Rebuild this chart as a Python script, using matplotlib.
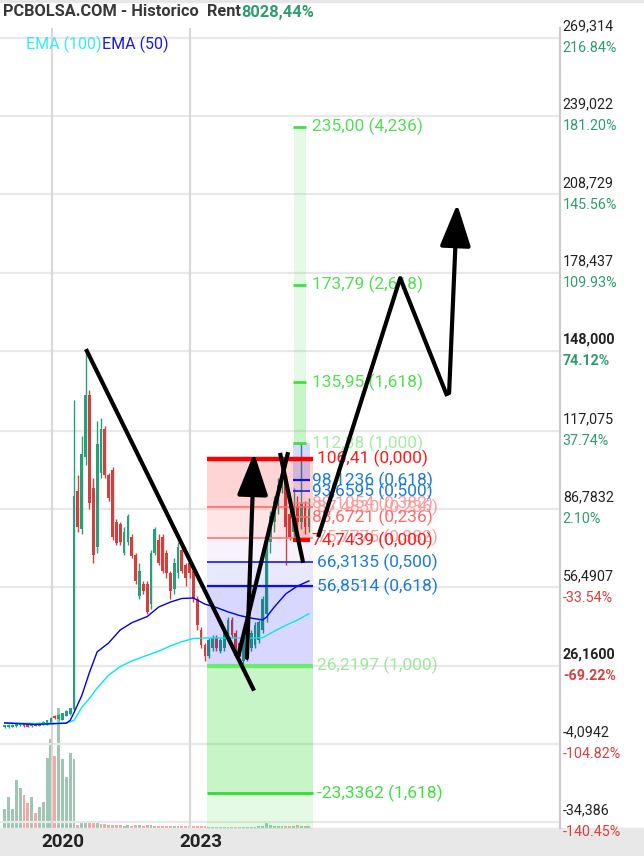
import matplotlib
matplotlib.use("Agg")
import matplotlib.pyplot as plt
import matplotlib.transforms as mtransforms
from matplotlib.patches import Rectangle

plt.rcParams['font.family'] = ['Roboto', 'DejaVu Sans']

# monthly candles, index 0 = Dec 2018
opens = [2.3, 2.5, 2.6, 2.8, 3.0, 3.8, 3.4, 2.7, 3.5, 2.9,
         3.4, 3.3, 3.9, 6.6, 5.6, 5.2, 6.8, 7.4, 9.5, 94,
         79, 107, 131, 95, 72, 101, 118, 100, 102, 82,
         81, 70, 74, 76, 69, 53, 58, 58, 50, 70,
         75, 76, 70, 62, 56, 62, 71, 65, 66, 63,
         52, 40, 34, 30, 33, 37, 32, 33, 37, 44,
         39, 35, 28, 30, 33, 34, 36, 40, 46, 74,
         82, 88, 95, 98, 85, 78, 88, 82, 88, 80]
highs = [3.2, 3.4, 3.5, 4.0, 4.1, 4.0, 3.6, 3.8, 3.7, 4.2,
         4.6, 5.3, 6.2, 6.9, 7.3, 8.0, 8.9, 9.8, 129, 100,
         115, 148, 133, 99, 121, 122, 119, 101, 103, 83,
         82, 80, 85, 77, 70, 66, 59, 59, 71, 80,
         77, 77, 71, 63, 68, 74, 72, 66, 67, 64.5,
         53, 41, 35, 37, 38, 38, 37, 40, 45, 45,
         40, 36, 38, 39, 40, 43, 44, 53, 77, 86,
         92, 99, 104, 100, 88, 95, 92, 112.38, 90, 91]
lows = [2.0, 2.2, 2.4, 2.6, 2.8, 2.6, 2.4, 2.5, 2.7, 2.7,
        3.1, 3.1, 3.7, 5.6, 5.3, 5.0, 6.5, 7.1, 9.0, 78,
        77, 104, 87, 66, 70, 99, 99, 90, 75, 73,
        73, 69, 73, 68, 58, 52, 54, 46, 48, 69,
        65, 62, 60, 52, 54, 60, 62, 57, 60, 51,
        40, 33, 28, 29, 32, 32, 31, 32, 36, 37,
        29, 30, 27, 28, 32, 33, 35, 39, 43, 70,
        78, 85, 93, 65, 74.74, 75, 78, 79, 77, 78]
closes = [3.0, 3.1, 3.3, 3.7, 3.8, 2.8, 2.6, 3.6, 2.9, 4.0,
          4.4, 5.0, 5.9, 5.8, 7.0, 7.7, 8.6, 9.6, 92, 80,
          108, 131, 89, 69, 112, 118, 100, 91, 76, 73.5,
          74, 78, 84, 68.5, 59, 63, 55, 47, 70, 79,
          66, 63, 62, 55, 66, 72, 63, 60, 62, 52,
          42, 34, 30, 36, 37, 33, 36, 39, 44, 38,
          30, 31, 37, 38, 39, 42, 43, 52, 75, 84,
          90, 96, 102, 80, 76, 88, 82, 89, 80, 87]
volumes = [19, 31, 19, 48, 40, 33, 25, 31, 15, 21,
           26, 70, 89, 72, 120, 69, 51, 75, 69, 3,
           5, 6, 7, 6, 5, 4, 4, 3, 3, 3,
           3, 2.5, 3, 2.5, 3, 3, 2, 3, 3, 2,
           2, 2, 2, 2, 2, 2, 2, 2, 2, 2,
           2, 2, 2, 1.5, 1.5, 1.5, 1.5, 1.5, 1.5, 1.5,
           1.5, 1.5, 1.5, 1.5, 1.5, 1.5, 2, 2, 5, 3,
           2.5, 2.5, 2.5, 2.5, 2.5, 2.5, 3, 2.5, 2.5, 2.5]

ema50_idx = [0, 8, 16, 17, 18, 20, 22, 24, 27, 30, 33, 37, 40, 43, 46, 49,
             52, 55, 58, 61, 64, 67, 68, 70, 73, 76, 79]
ema50_val = [4.0, 3.4, 3.9, 5.0, 8.0, 14.5, 23.5, 31.5, 35.0, 40.0, 42.8, 45.2,
             48.9, 50.8, 52.2, 52.4, 50.0, 48.7, 47.0, 45.6, 44.6, 43.9, 45.0,
             48.9, 54.0, 57.0, 59.0]
ema100_idx = [0, 8, 16, 18, 20, 22, 24, 27, 30, 33, 37, 40, 43, 46, 49, 52,
              58, 64, 67, 70, 73, 76, 79]
ema100_val = [4.0, 3.8, 3.9, 5.0, 10.0, 13.5, 17.5, 22.5, 25.8, 28.0, 30.2, 31.8,
              33.8, 35.5, 36.7, 36.9, 36.9, 36.9, 37.0, 39.5, 41.8, 43.8, 46.3]

price_ticks = [269.314, 239.022, 208.729, 178.437, 148.000, 117.075,
               86.7832, 56.4907, 26.1600, -4.0942, -34.386]
price_labels = ["269,314", "239,022", "208,729", "178,437", "148,000", "117,075",
                "86,7832", "56,4907", "26,1600", "-4,0942", "-34,386"]
bold_ticks = [148.000, 26.1600]
base_price = 85.0

years = ["2020", "2023"]
year_idx = [12.3, 48.1]

# big fib retracement
fibA_start, fibA_end = 52.6, 80.1
fibA_prices = [106.41, 87.4830, 75.7775, 66.3135, 56.8514, 26.2197, -23.3362, -103.53]
fibA_text = ["106,41 (0,000)", "87,4830 (0,236)", "75,7775 (0,382)", "66,3135 (0,500)",
             "56,8514 (0,618)", "26,2197 (1,000)", "-23,3362 (1,618)"]

# small fib retracement
fibB_start, fibB_end = 74.9, 79.3
fibB_prices = [74.7439, 83.6721, 89.1054, 93.6595, 98.1236, 112.38]
fibB_text = ["74,7439 (0,000)", "83,6721 (0,236)", "89,1054 (0,382)",
             "93,6595 (0,500)", "98,1236 (0,618)"]

# fib extension
fibC_start, fibC_end = 75.1, 78.3
fibC_prices = [112.38, 135.95, 173.79, 235.00]
fibC_text = ["112,38 (1,000)", "135,95 (1,618)", "173,79 (2,618)", "235,00 (4,236)"]

# hand drawn sketch (month index, price)
trend_x, trend_y = [21.1, 64.75], [148.8, 16.5]
rise_x, rise_y = [60.6, 73.6], [29.5, 108.9]
drop_x, drop_y = [71.5, 77.5], [108.6, 66.0]
zig_x, zig_y = [81.4, 102.7, 114.9], [76.0, 176.3, 130.6]
arrow_from = [(62.9, 29.2), (115.4, 131.8)]
arrow_to = [(64.75, 108.6), (117.5, 205.0)]

GREEN = '#26a07a'
RED = '#d23f3f'

fig = plt.figure(figsize=(6.44, 8.56), dpi=100)
rect = [0, 28 / 856, 560 / 644, 800 / 856]
ax_vol = fig.add_axes(rect)
ax_vol.axis('off')
ax = fig.add_axes(rect, facecolor='none')
ax.set_zorder(2)

xlim = (-1.22, 144.2)
ax.set_xlim(*xlim)
ax.set_ylim(-36.71, 273.19)
ax_vol.set_xlim(*xlim)
ax_vol.set_ylim(0, max(volumes) * 6.67)

idx = list(range(len(closes)))
up = [c >= o for o, c in zip(opens, closes)]
cols = [GREEN if u else RED for u in up]
vcols = ['#9fc6b3' if u else '#f2a8a8' for u in up]

ax_vol.bar(idx, volumes, width=0.75, color=vcols, linewidth=0)

for p in price_ticks:
    ax.axhline(p, color='#e8e8e8', lw=1.6, zorder=0)
for yi in year_idx:
    ax.axvline(yi, color='#d8d8d8', lw=1.5, zorder=0)

# candles
ax.vlines(idx, lows, highs, colors=cols, lw=1, zorder=2)
ax.bar(idx, [max(abs(c - o), 0.4) for o, c in zip(opens, closes)],
       bottom=[min(o, c) for o, c in zip(opens, closes)],
       width=0.72, color=cols, linewidth=0, zorder=2)

# fib A fills
fillA = [('#ff0000', 0.17), ('#ff0000', 0.10), ('#a050e0', 0.07), ('#0000ff', 0.09),
         ('#0000ff', 0.155), ('#33dd33', 0.27), ('#33dd33', 0.13)]
for k, (c, a) in enumerate(fillA):
    ax.fill_between([fibA_start, fibA_end], fibA_prices[k + 1], fibA_prices[k],
                    color=c, alpha=a, lw=0, zorder=3)
fillB = [('#ff0000', 0.17), ('#ff0000', 0.10), ('#a050e0', 0.07), ('#0000ff', 0.09),
         ('#0000ff', 0.155)]
for k, (c, a) in enumerate(fillB):
    ax.fill_between([fibB_start, fibB_end], fibB_prices[k], fibB_prices[k + 1],
                    color=c, alpha=a, lw=0, zorder=3)
ax.fill_between([fibC_start, fibC_end], fibC_prices[0], fibC_prices[1],
                color='#33dd33', alpha=0.27, lw=0, zorder=3)
ax.fill_between([fibC_start, fibC_end], fibC_prices[1], fibC_prices[3],
                color='#33dd33', alpha=0.13, lw=0, zorder=3)

# EMAs
ax.plot(ema100_idx, ema100_val, color='#00eaea', lw=1, zorder=4)
ax.plot(ema50_idx, ema50_val, color='#0000e6', lw=1, zorder=4)

FIBSIZE = 12.5

# fib lines + labels
lineA = [('#ff0000', 3.2), ('#ff6b6b', 1.2), ('#ff7a7a', 1.2), ('#2a2ae8', 1.3),
         ('#1010e0', 1.6), ('#66ee66', 3.0), ('#2fdc2f', 2.0)]
textA = ['#ff1a1a', '#ff9a9a', '#ffa0a0', '#1f7ad6', '#1f7ad6', '#9de89d', '#40e040']
for k in range(len(fibA_text)):
    ax.hlines(fibA_prices[k], fibA_start, fibA_end, colors=lineA[k][0],
              lw=lineA[k][1], zorder=5)
    ax.annotate(fibA_text[k], xy=(fibA_end, fibA_prices[k]), xytext=(3, 0),
                textcoords='offset points', va='center', ha='left', fontsize=FIBSIZE,
                color=textA[k], zorder=6, annotation_clip=False)

lineB = [('#ff0000', 3.0), ('#ff6b6b', 1.2), ('#ff7a7a', 1.2), ('#2a2ae8', 1.3),
         ('#1010e0', 1.6)]
textB = ['#ff1a1a', '#ff6a6a', '#ff9c9c', '#1f7ad6', '#1f7ad6']
for k in range(len(fibB_text)):
    ax.hlines(fibB_prices[k], fibB_start, fibB_end, colors=lineB[k][0],
              lw=lineB[k][1], zorder=5)
    ax.annotate(fibB_text[k], xy=(fibB_end, fibB_prices[k]), xytext=(1.5, 0),
                textcoords='offset points', va='center', ha='left', fontsize=FIBSIZE,
                color=textB[k], zorder=6, annotation_clip=False)

textC = ['#a3eca3', '#50e050', '#50e050', '#50e050']
for k in range(len(fibC_text)):
    ax.hlines(fibC_prices[k], fibC_start - 0.3, fibC_end, colors='#44dd44',
              lw=2.0, zorder=5)
    ax.annotate(fibC_text[k], xy=(fibB_end, fibC_prices[k]), xytext=(1.5, 0),
                textcoords='offset points', va='center', ha='left', fontsize=FIBSIZE,
                color=textC[k], zorder=6, annotation_clip=False)

# sketch
for xs, ys in [(trend_x, trend_y), (rise_x, rise_y), (drop_x, drop_y), (zig_x, zig_y)]:
    ax.plot(xs, ys, color='black', lw=3, solid_capstyle='butt', zorder=7)
for a, b in zip(arrow_from, arrow_to):
    ax.annotate('', xy=b, xytext=a, zorder=7,
                arrowprops=dict(arrowstyle='-|>,head_length=2.6,head_width=0.95',
                                mutation_scale=10, lw=3, color='black',
                                shrinkA=0, shrinkB=0))

# axes cosmetics
for s in ['top', 'left', 'bottom']:
    ax.spines[s].set_visible(False)
ax.spines['right'].set_color('#cccccc')
ax.spines['right'].set_linewidth(1.6)
ax.set_xticks([])
ax.set_yticks([])

for p, lab in zip(price_ticks, price_labels):
    bold = p in bold_ticks
    pct = (p / base_price - 1) * 100
    ax.annotate(lab, xy=(1, p), xycoords=('axes fraction', 'data'), xytext=(2, 8.3),
                textcoords='offset points', va='center', ha='left', fontsize=10.3,
                color='#222222', fontweight='bold' if bold else 'normal',
                annotation_clip=False)
    ax.annotate(f"{pct:.2f}%", xy=(1, p), xycoords=('axes fraction', 'data'),
                xytext=(2, -7.4), textcoords='offset points', va='center', ha='left',
                fontsize=10.3, color='#2e9c6e' if pct >= 0 else '#d64040',
                fontweight='bold' if bold else 'normal', annotation_clip=False)

# bottom date band
fig.add_artist(Rectangle((0, 0), 1, 28 / 856, transform=fig.transFigure,
                         color='#e8e8e8', zorder=1))
fig.add_artist(Rectangle((0, 1 - 2 / 856), 1, 2 / 856, transform=fig.transFigure,
                         color='#e6e6e6', zorder=1))
blend = mtransforms.blended_transform_factory(ax.transData, fig.transFigure)
ytr = mtransforms.offset_copy(blend, fig=fig, x=8, y=0, units='points')
for yi, lab in zip(year_idx, years):
    fig.text(yi, 14 / 856, lab, transform=ytr, ha='center', va='center',
             fontsize=13.5, fontweight='bold', color='#222222', zorder=3)

# title and legend
t1 = fig.text(3 / 644, 1 - 12 / 856, "PCBOLSA.COM - Historico  Rent", ha='left',
              va='center', fontsize=11.8, fontweight='bold', color='#383838')
ax.annotate("8028,44%", xy=(1, 0.5), xycoords=t1, va='center', ha='left',
            fontsize=11.8, fontweight='bold', color='#2e9c6e')
t2 = fig.text(26 / 644, 1 - 44 / 856, "EMA (100)", ha='left', va='center',
              fontsize=11.5, color='#33eeee')
ax.annotate("EMA (50)", xy=(1, 0.5), xycoords=t2, va='center', ha='left',
            fontsize=11.5, color='#1a1ae0')

fig.savefig("out.png", dpi=100)
